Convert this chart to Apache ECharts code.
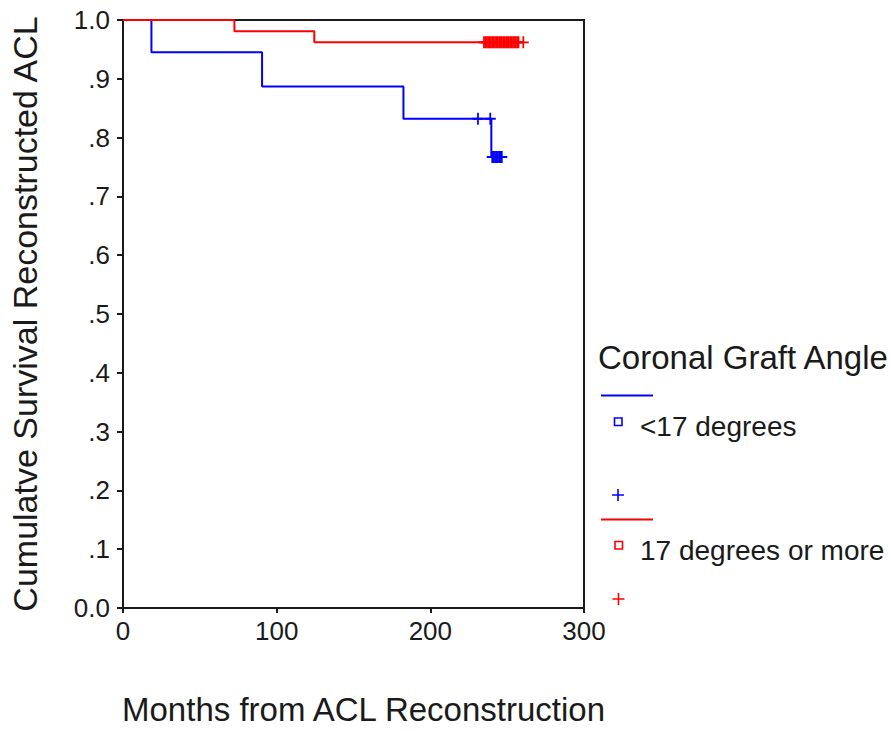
<!DOCTYPE html>
<html>
<head>
<meta charset="utf-8">
<script src="https://cdn.jsdelivr.net/npm/echarts@6/dist/echarts.min.js"></script>
<style>html,body{margin:0;padding:0;background:#fff;}#main{width:891px;height:731px;}</style>
</head>
<body>
<div id="main"></div>
<script>
// ---- data ----
const xTicks = [0, 100, 200, 300];
const yTickLabels = ['0.0', '.1', '.2', '.3', '.4', '.5', '.6', '.7', '.8', '.9', '1.0'];
const seriesNames = ['<17 degrees', '17 degrees or more'];
const legendTitle = 'Coronal Graft Angle';
const xTitle = 'Months from ACL Reconstruction';
const yTitle = 'Cumulatve Survival Reconstructed ACL';

// Kaplan-Meier steps [months, survival]
const lowSteps = [[0, 1.0], [18.5, 0.945], [90.5, 0.887], [182.5, 0.832], [239.7, 0.767], [246.5, 0.767]];
const highSteps = [[0, 1.0], [72.5, 0.981], [124.5, 0.962], [260.5, 0.962]];
// censored observations [months, survival]
const lowCensored = [[231, 0.832], [239, 0.832], [240.3, 0.767], [241.2, 0.767], [242.1, 0.767], [243, 0.767], [243.9, 0.767], [244.8, 0.767], [245.7, 0.767], [246.5, 0.767]];
const highCensored = [[234.9, 0.962], [235.8, 0.962], [236.7, 0.962], [237.6, 0.962], [238.5, 0.962], [239.4, 0.962], [240.3, 0.962], [241.2, 0.962], [242.1, 0.962], [243, 0.962], [243.9, 0.962], [244.8, 0.962], [245.7, 0.962], [246.6, 0.962], [247.5, 0.962], [248.4, 0.962], [249.3, 0.962], [250.2, 0.962], [251.1, 0.962], [252, 0.962], [252.9, 0.962], [253.8, 0.962], [254.7, 0.962], [255.6, 0.962], [256.5, 0.962], [257.4, 0.962], [260.5, 0.962]];

const BLUE = '#0000ff', RED = '#ff0000', INK = '#1a1a1a';
const FONT = "'Liberation Sans', Arial, sans-serif";
const PLUS = 'path://M4.2,0H5.8V4.2H10V5.8H5.8V10H4.2V5.8H0V4.2H4.2Z';

function plusPoints(cx, cy, r, h) {
  return [[cx - h, cy - r], [cx + h, cy - r], [cx + h, cy - h], [cx + r, cy - h], [cx + r, cy + h], [cx + h, cy + h],
          [cx + h, cy + r], [cx - h, cy + r], [cx - h, cy + h], [cx - r, cy + h], [cx - r, cy - h], [cx - h, cy - h]];
}

const chart = echarts.init(document.getElementById('main'), null, {renderer: 'svg'});
chart.setOption({
  backgroundColor: '#fff',
  animation: false,
  grid: {left: 123, right: 307, top: 20, bottom: 122, show: true, borderColor: INK, borderWidth: 2, backgroundColor: 'transparent'},
  xAxis: {
    type: 'value', min: xTicks[0], max: xTicks[xTicks.length - 1], interval: 100,
    name: xTitle, nameLocation: 'middle', nameGap: 85,
    nameTextStyle: {fontFamily: FONT, fontSize: 33, color: INK, padding: [0, 0, 0, 20]},
    axisLine: {show: true, lineStyle: {color: INK, width: 2}},
    axisTick: {show: true, length: 5, lineStyle: {color: INK, width: 2}},
    axisLabel: {fontFamily: FONT, fontSize: 26, color: INK, margin: 10},
    splitLine: {show: false}
  },
  yAxis: {
    type: 'value', min: 0, max: 1, interval: 0.1,
    name: yTitle, nameLocation: 'middle', nameGap: 81,
    nameTextStyle: {fontFamily: FONT, fontSize: 34, color: INK},
    axisLine: {show: true, lineStyle: {color: INK, width: 2}},
    axisTick: {show: true, length: 6, lineStyle: {color: INK, width: 2}},
    axisLabel: {fontFamily: FONT, fontSize: 26, color: INK, margin: 13,
      formatter: v => yTickLabels[Math.round(v * 10)]},
    splitLine: {show: false}
  },
  series: [
    {name: seriesNames[0], type: 'line', step: 'end', data: lowSteps, showSymbol: false, symbol: 'none',
      lineStyle: {color: BLUE, width: 2}, z: 3},
    {name: seriesNames[1], type: 'line', step: 'end', data: highSteps, showSymbol: false, symbol: 'none',
      lineStyle: {color: RED, width: 2}, z: 3},
    {name: seriesNames[0] + ' censored', type: 'scatter', data: lowCensored, symbol: PLUS, symbolSize: [11, 12],
      itemStyle: {color: BLUE, opacity: 1}, z: 4},
    {name: seriesNames[1] + ' censored', type: 'scatter', data: highCensored, symbol: PLUS, symbolSize: [11, 12],
      itemStyle: {color: RED, opacity: 1}, z: 4}
  ],
  graphic: [
    {type: 'text', x: 598, y: 357, style: {text: legendTitle, font: '33px ' + FONT, fill: INK, verticalAlign: 'middle'}},
    {type: 'line', shape: {x1: 601, y1: 395.5, x2: 653, y2: 395.5}, style: {stroke: BLUE, lineWidth: 2}},
    {type: 'rect', shape: {x: 614.5, y: 418, width: 7.5, height: 7.5}, style: {fill: 'none', stroke: BLUE, lineWidth: 1.6}},
    {type: 'text', x: 640, y: 426, style: {text: seriesNames[0], font: '28px ' + FONT, fill: INK, verticalAlign: 'middle'}},
    {type: 'polygon', shape: {points: plusPoints(618, 495, 6, 0.8)}, style: {fill: BLUE}},
    {type: 'line', shape: {x1: 601, y1: 519.5, x2: 653, y2: 519.5}, style: {stroke: RED, lineWidth: 2}},
    {type: 'rect', shape: {x: 615, y: 541.5, width: 7.5, height: 7.5}, style: {fill: 'none', stroke: RED, lineWidth: 1.6}},
    {type: 'text', x: 640, y: 550, style: {text: seriesNames[1], font: '28px ' + FONT, fill: INK, verticalAlign: 'middle'}},
    {type: 'polygon', shape: {points: plusPoints(618.5, 599, 6, 0.8)}, style: {fill: RED}}
  ]
});
</script>
</body>
</html>
